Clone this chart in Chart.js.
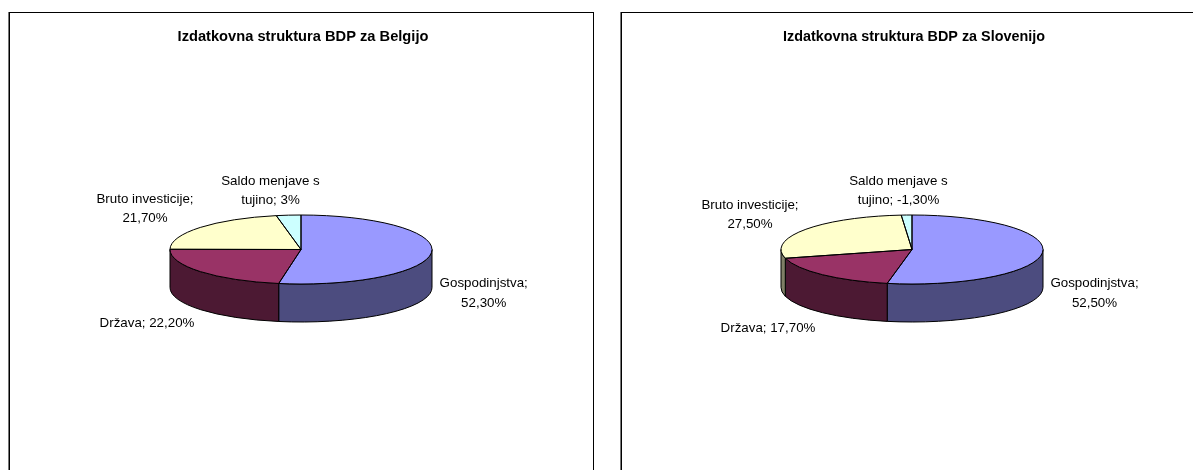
<!DOCTYPE html>
<html><head><meta charset="utf-8">
<script src="https://cdn.jsdelivr.net/npm/chart.js@4"></script>
<style>
html,body{margin:0;padding:0;background:#fff;overflow:hidden;width:1193px;height:470px}
.frame{position:absolute;top:12px;height:470px;border:1px solid #000;box-sizing:border-box;background:#fff}
.wrap{position:absolute;top:0;height:470px}
canvas{display:block}
</style></head><body>
<div class="frame" style="left:9px;width:585px;box-shadow:-1px 0 0 #777"></div>
<div class="frame" style="left:621px;width:600px;box-shadow:-1px 0 0 #777"></div>
<div class="wrap" style="left:8px;width:590px"><canvas id="c1"></canvas></div>
<div class="wrap" style="left:619px;width:590px"><canvas id="c2"></canvas></div>
<script>
const categories = ["Gospodinjstva", "Država", "Bruto investicije", "Saldo menjave s tujino"];
const belgijaValues = [52.3, 22.2, 21.7, 3];
const slovenijaValues = [52.5, 17.7, 27.5, -1.3];
const belgijaLabels = ["52,30%", "22,20%", "21,70%", "3%"];
const slovenijaLabels = ["52,50%", "17,70%", "27,50%", "-1,30%"];
const titles = ["Izdatkovna struktura BDP za Belgijo", "Izdatkovna struktura BDP za Slovenijo"];
const topColors = ["#9999FF", "#993366", "#FFFFCC", "#CCFFFF"];
const sideColors = ["#4C4C7F", "#4C1933", "#7F7F66", "#667F7F"];

const W = 590, H = 470, R = 131, RY = 34.5, DEPTH = 38, CY = 249.5;
const FONT = "13.33px 'Liberation Sans', Arial, sans-serif";
const TITLE_TOP = 28, TITLE_SIZE = 14.67;

function makeChart(id, title, values, valueLabels, pieDx, labelPlaces) {
  const pie3d = {
    id: 'pie3d',
    beforeDatasetsDraw(chart) {
      const arcs = chart.getDatasetMeta(0).data;
      const ctx = chart.ctx, a0 = arcs[0];
      const cx = a0.x + pieDx, cy = a0.y;
      ctx.save();
      ctx.strokeStyle = '#000'; ctx.lineWidth = 1;
      arcs.forEach((arc, i) => {
        const a = Math.max(arc.startAngle, 0), b = Math.min(arc.endAngle, Math.PI);
        if (b <= a) return;
        ctx.beginPath();
        ctx.ellipse(cx, cy, R, RY, 0, a, b);
        ctx.ellipse(cx, cy + DEPTH, R, RY, 0, b, a, true);
        ctx.closePath();
        ctx.fillStyle = sideColors[i];
        ctx.fill(); ctx.stroke();
      });
      ctx.restore();
      ctx.save();
      ctx.translate(cx, cy);
      ctx.scale(1, RY / R);
      ctx.translate(-a0.x, -a0.y);
    },
    afterDatasetsDraw(chart) {
      const ctx = chart.ctx;
      ctx.restore();
      const arcs = chart.getDatasetMeta(0).data;
      const cx = arcs[0].x + pieDx, cy = arcs[0].y;
      ctx.save();
      ctx.strokeStyle = '#000'; ctx.lineWidth = 1;
      arcs.forEach(arc => {
        ctx.beginPath();
        ctx.moveTo(cx, cy);
        ctx.ellipse(cx, cy, R, RY, 0, arc.startAngle, arc.endAngle);
        ctx.closePath();
        ctx.stroke();
      });
      ctx.fillStyle = '#000'; ctx.font = FONT;
      ctx.textAlign = 'center'; ctx.textBaseline = 'middle';
      labelPlaces.forEach((p, i) => {
        const lines = p.lines(categories[i], valueLabels[i]);
        lines.forEach((t, k) => ctx.fillText(t, cx + p.dx, cy + p.dy + k * 19.7));
      });
      ctx.restore();
    }
  };
  const el = document.getElementById(id);
  el.width = W; el.height = H;
  return new Chart(el, {
    type: 'pie',
    data: { labels: categories, datasets: [{ data: values, backgroundColor: topColors, borderWidth: 0 }] },
    options: {
      responsive: false, animation: false, rotation: 0,
      layout: { padding: { left: W / 2 - R, right: W / 2 - R, top: 0, bottom: H - CY - R } },
      plugins: {
        legend: { display: false }, tooltip: { enabled: false },
        title: { display: true, text: title, color: '#000',
          font: { family: "'Liberation Sans', Arial, sans-serif", size: TITLE_SIZE, weight: 'bold', lineHeight: 1.2 },
          padding: { top: TITLE_TOP, bottom: CY - R - TITLE_TOP - TITLE_SIZE * 1.2 } }
      }
    },
    plugins: [pie3d]
  });
}
const placesB = [
  { dx: 182.7, dy: 34, lines: (c, v) => [c + ";", v] },
  { dx: -154, dy: 74, lines: (c, v) => [c + "; " + v] },
  { dx: -156, dy: -50.5, lines: (c, v) => [c + ";", v] },
  { dx: -30.5, dy: -68.5, lines: (c, v) => ["Saldo menjave s", "tujino; " + v] }
];
const placesS = [
  { dx: 182.5, dy: 34, lines: (c, v) => [c + ";", v] },
  { dx: -144, dy: 79, lines: (c, v) => [c + "; " + v] },
  { dx: -162, dy: -44.5, lines: (c, v) => [c + ";", v] },
  { dx: -13.5, dy: -68.5, lines: (c, v) => ["Saldo menjave s", "tujino; " + v] }
];
makeChart('c1', titles[0], belgijaValues, belgijaLabels, -2, placesB);
makeChart('c2', titles[1], slovenijaValues, slovenijaLabels, -2, placesS);
</script>
</body></html>
